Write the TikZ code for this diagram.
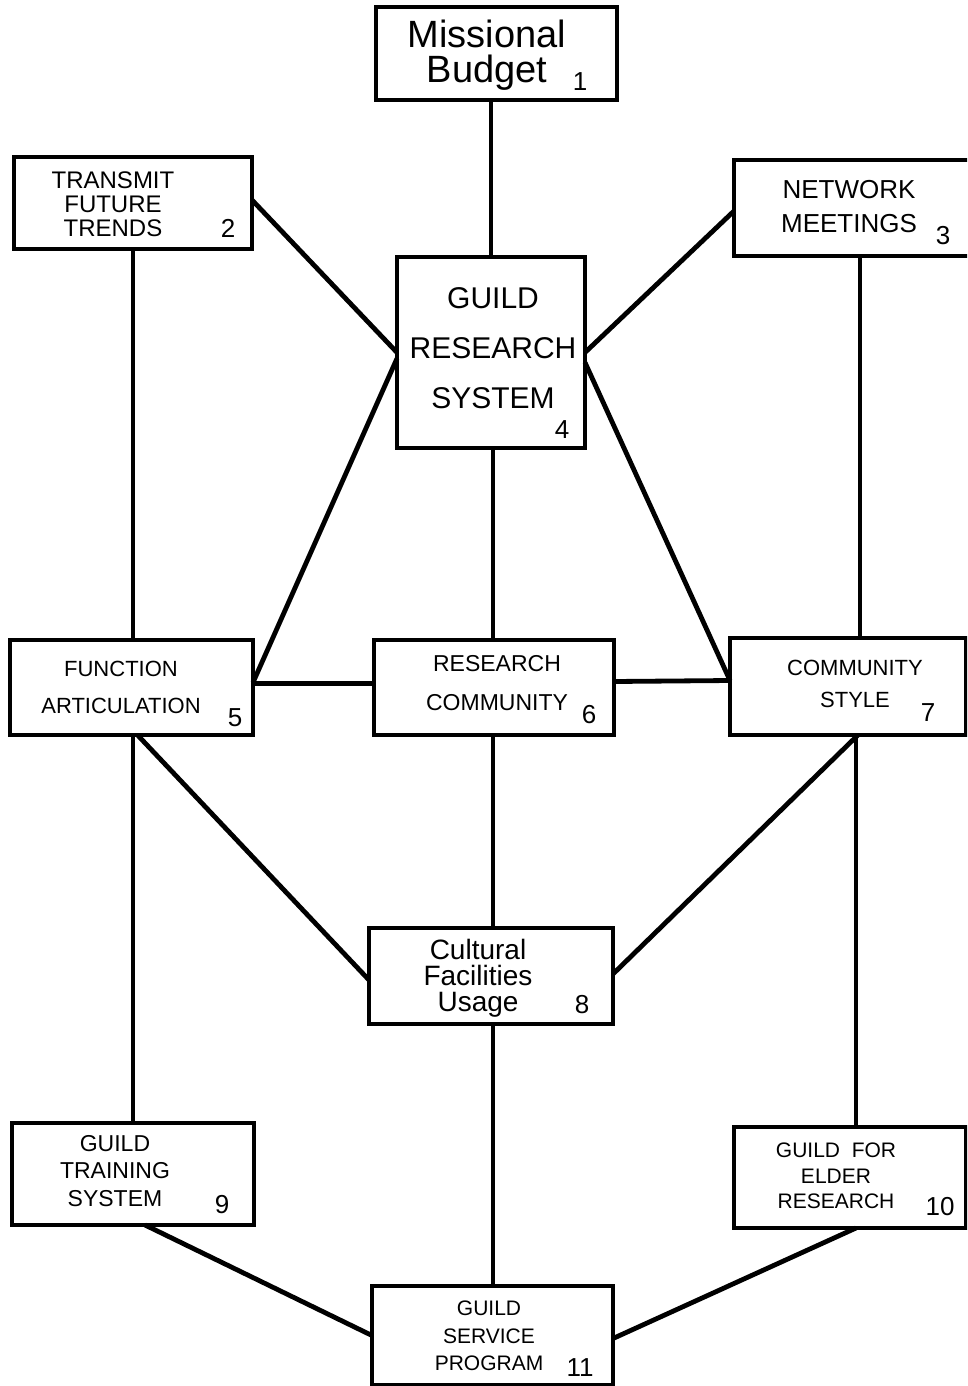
\documentclass[tikz,border=0pt]{standalone}
\usepackage{fontspec}
\setmainfont{Liberation Sans}
\begin{document}
\begin{tikzpicture}[x=1pt,y=-1pt,
  box/.style={draw,line width=4.8pt,inner sep=0pt,outer sep=0pt},
  link/.style={line width=4.8pt},
  lbl/.style={align=center,inner sep=0pt},
  num/.style={inner sep=0pt,font=\fontsize{26}{26}\selectfont}]
\useasboundingbox (0,0) rectangle (967,1386);
\clip (0,0) rectangle (967,1386);
\fill[white] (0,0) rectangle (967,1386);
% boxes
\node[box,minimum width=241pt,minimum height=93pt] (n1) at (496.5,53.5) {};
\node[box,minimum width=238pt,minimum height=92pt] (n2) at (133,203) {};
\node[box,minimum width=240pt,minimum height=96pt] (n3) at (854,208) {};
\node[box,minimum width=188pt,minimum height=191pt] (n4) at (491,352.5) {};
\node[box,minimum width=243pt,minimum height=95pt] (n5) at (131.5,687.5) {};
\node[box,minimum width=240pt,minimum height=95pt] (n6) at (494,687.5) {};
\node[box,minimum width=236pt,minimum height=97pt] (n7) at (848,686.5) {};
\node[box,minimum width=244pt,minimum height=96pt] (n8) at (491,976) {};
\node[box,minimum width=242pt,minimum height=102pt] (n9) at (133,1174) {};
\node[box,minimum width=232pt,minimum height=101pt] (n10) at (850,1177.5) {};
\node[box,minimum width=241pt,minimum height=99pt] (n11) at (492.5,1335.5) {};
% connectors
\draw[link] (n4.north) -- (n4.north |- n1.south);
\draw[link] ([yshift=3pt]n2.east) -- (n4.west);
\draw[link] ([yshift=-3pt]n3.west) -- (n4.east);
\draw[link] (n2.south) -- (n2.south |- n5.north);
\draw[link] ([xshift=6pt]n3.south) -- ([xshift=6pt]n3.south |- n7.north);
\draw[link] ([yshift=-6pt]n4.west) -- ([yshift=5pt]n5.east);
\draw[link] ([yshift=-10pt]n4.east) -- ([yshift=6pt]n7.west);
\draw[link] ([xshift=2pt]n4.south) -- ([xshift=2pt]n4.south |- n6.north);
\draw[link] ([yshift=4pt]n5.east) -- ([yshift=4pt]n6.west);
\draw[link] ([yshift=6pt]n6.east) -- ([yshift=6pt]n7.west);
\draw[link] ([xshift=1.5pt]n5.south) -- ([xshift=1.5pt]n5.south |- n9.north);
\draw[link] ([xshift=6pt]n5.south) -- ([yshift=-4pt]n8.west);
\draw[link] ([xshift=10pt]n7.south) -- ([yshift=2pt]n8.east);
\draw[link] ([xshift=8pt]n7.south) -- ([xshift=8pt]n7.south |- n10.north);
\draw[link] ([xshift=-1pt]n6.south) -- ([xshift=-1pt]n6.south |- n8.north);
\draw[link] ([xshift=2pt]n8.south) -- ([xshift=2pt]n8.south |- n11.north);
\draw[link] ([xshift=12pt]n9.south) -- (n11.west);
\draw[link] ([xshift=6pt]n10.south) -- ([yshift=-3pt]n11.east);
% labels
\node[lbl,font=\fontsize{38}{35}\selectfont] (t1) at (487,55) {Missional\\Budget};
\node[num] (k1) at (580,82) {1};
\node[lbl,font=\fontsize{24}{24}\selectfont] (t2) at (113,204) {TRANSMIT\\FUTURE\\TRENDS};
\node[num] (k2) at (228,228) {2};
\node[lbl,font=\fontsize{26}{34}\selectfont] (t3) at (849,207) {NETWORK\\MEETINGS};
\node[num] (k3) at (943,236) {3};
\node[lbl,font=\fontsize{30}{50}\selectfont] (t4) at (493,348) {GUILD\\RESEARCH\\SYSTEM};
\node[num] (k4) at (562,430) {4};
\node[lbl,font=\fontsize{22}{37}\selectfont] (t5) at (121,687) {FUNCTION\\ARTICULATION};
\node[num] (k5) at (235,718) {5};
\node[lbl,font=\fontsize{23}{39}\selectfont] (t6) at (497,683) {RESEARCH\\COMMUNITY};
\node[num] (k6) at (589,715) {6};
\node[lbl,font=\fontsize{22}{32}\selectfont] (t7) at (855,684) {COMMUNITY\\STYLE};
\node[num] (k7) at (928,713) {7};
\node[lbl,font=\fontsize{28}{26}\selectfont] (t8) at (478,978) {Cultural\\Facilities\\Usage};
\node[num] (k8) at (582,1005) {8};
\node[lbl,font=\fontsize{23}{27.5}\selectfont] (t9) at (115,1171) {GUILD\\TRAINING\\SYSTEM};
\node[num] (k9) at (222,1205) {9};
\node[lbl,font=\fontsize{21}{25.5}\selectfont] (t10) at (836,1176) {GUILD \ FOR\\ELDER\\RESEARCH};
\node[num] (k10) at (940,1207) {10};
\node[lbl,font=\fontsize{21}{27.5}\selectfont] (t11) at (489,1336) {GUILD\\SERVICE\\PROGRAM};
\node[num] (k11) at (580,1368) {11};
\end{tikzpicture}
\end{document}
